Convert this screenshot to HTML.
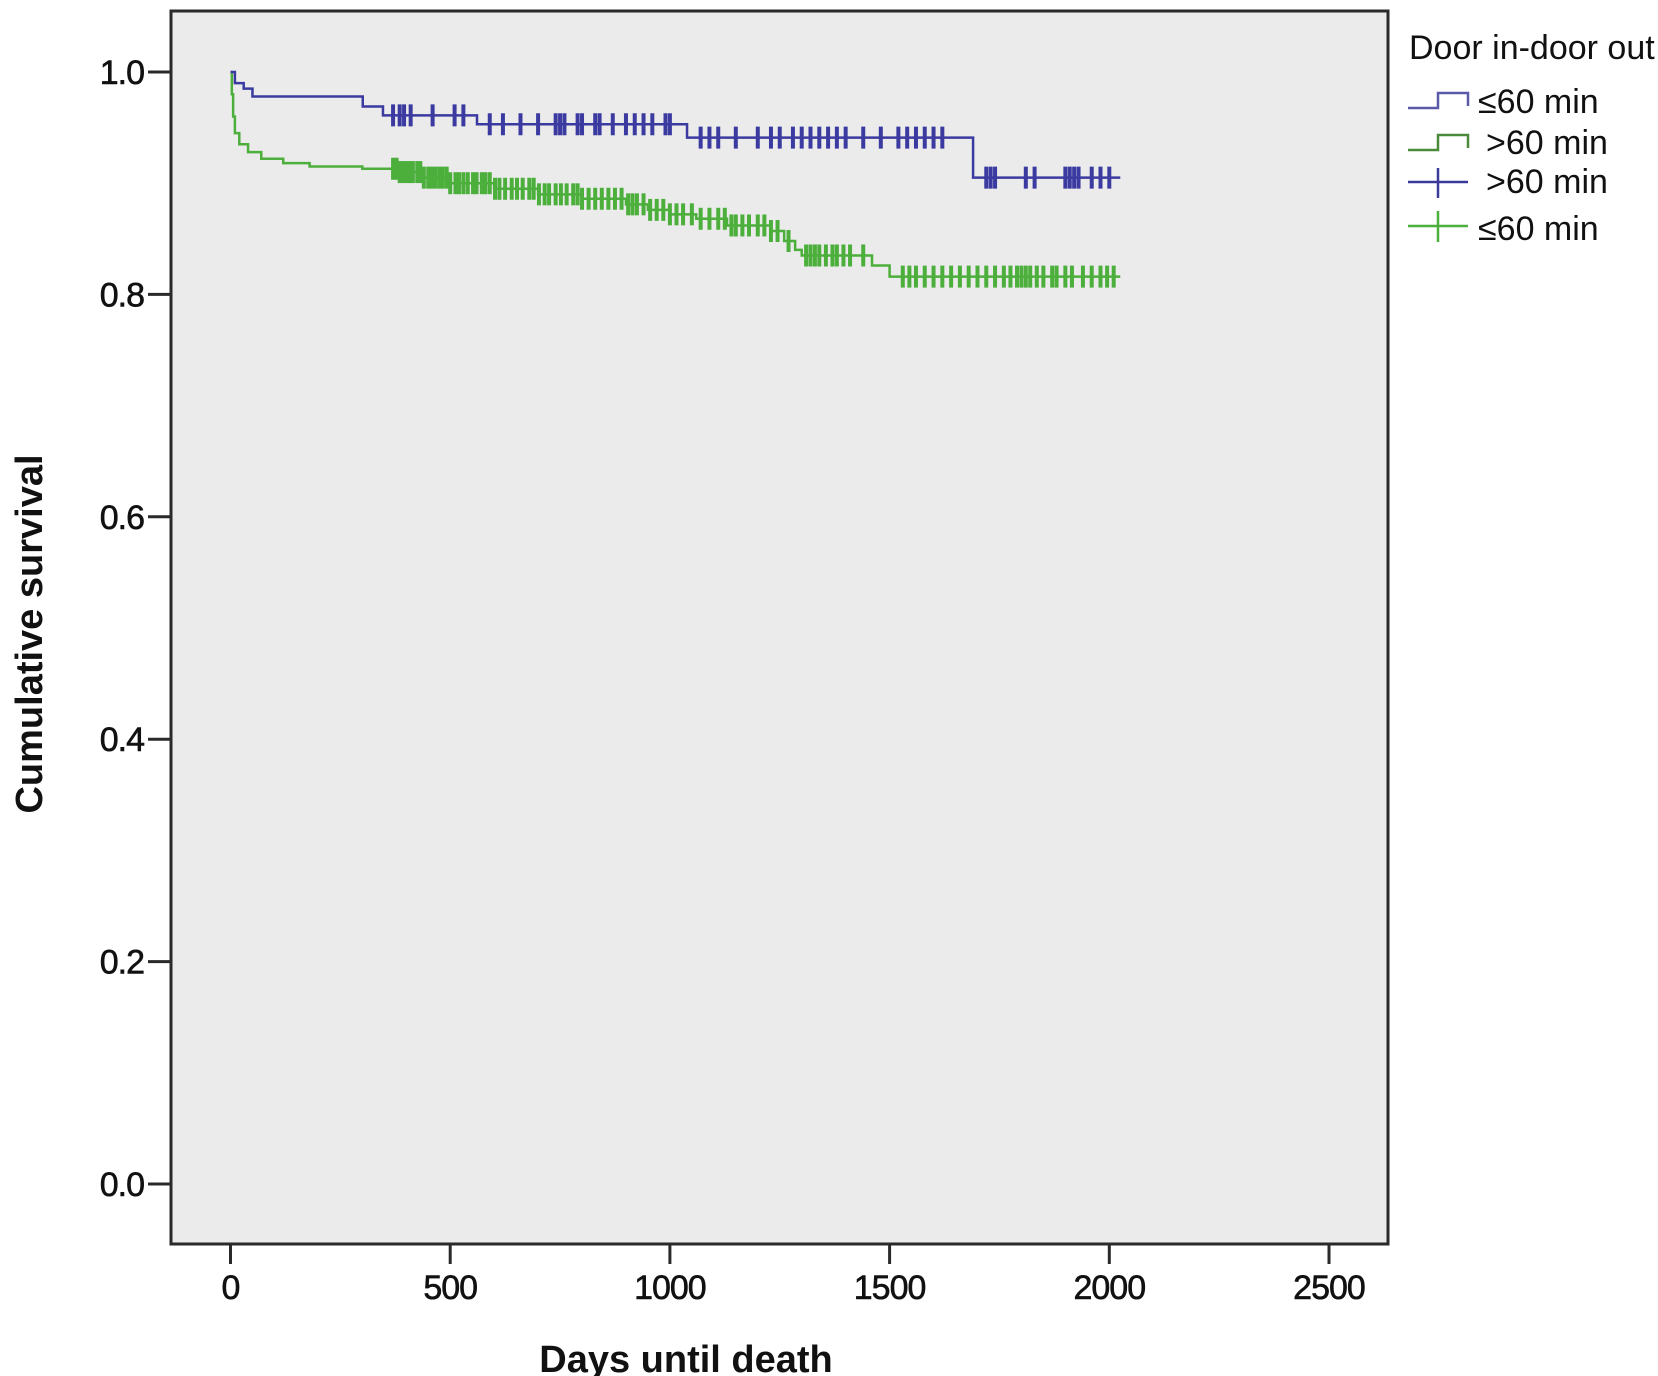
<!DOCTYPE html>
<html><head><meta charset="utf-8"><style>
html,body{margin:0;padding:0;background:#fff;}
svg{display:block;}
text{font-family:"Liberation Sans",sans-serif;}
</style></head>
<body>
<svg id="chart" width="1658" height="1376" viewBox="0 0 1658 1376" xmlns="http://www.w3.org/2000/svg">
<rect x="171" y="11" width="1217" height="1233" fill="#ebebeb" stroke="#2a2a2a" stroke-width="3"/>
<g id="axes"></g>
<g id="series"></g>
<text x="686" y="1372" font-size="38" font-weight="bold" text-anchor="middle" fill="#111">Days until death</text>
<text transform="translate(42,634) rotate(-90)" font-size="38" font-weight="bold" text-anchor="middle" fill="#111">Cumulative survival</text>
<g>
<text x="1409" y="59" font-size="34" fill="#111">Door in-door out</text>
<path d="M1408 108 H1438 V93 H1468 V106" fill="none" stroke="#5a5aa8" stroke-width="2.5"/>
<text x="1478" y="113" font-size="34" fill="#111">≤60 min</text>
<path d="M1408 150 H1438 V135 H1468 V148" fill="none" stroke="#4a8a3a" stroke-width="2.5"/>
<text x="1486" y="154" font-size="34" fill="#111">&gt;60 min</text>
<path d="M1408 182 H1468 M1438 168 V198" fill="none" stroke="#3a3a9a" stroke-width="2.5"/>
<text x="1486" y="193" font-size="34" fill="#111">&gt;60 min</text>
<path d="M1408 226 H1468 M1438 211 V242" fill="none" stroke="#4caf3c" stroke-width="2.5"/>
<text x="1478" y="240" font-size="34" fill="#111">≤60 min</text>
</g>
</svg>
<script>
const xTicks = [0, 500, 1000, 1500, 2000, 2500];
const yTicks = [0.0, 0.2, 0.4, 0.6, 0.8, 1.0];
const yTickLabels = ["0.0", "0.2", "0.4", "0.6", "0.8", "1.0"];
const blueStepTimes = [0, 10, 30, 50, 301, 347, 561, 1039, 1690];
const blueStepSurv = [1.0, 0.99, 0.985, 0.978, 0.969, 0.961, 0.953, 0.941, 0.905];
const blueEnd = 2025;
const blueCensor = [370,385,395,410,460,510,530,590,620,660,700,740,750,760,790,800,830,840,870,900,920,940,960,990,1000,1070,1090,1110,1150,1200,1230,1250,1280,1300,1320,1340,1360,1380,1400,1440,1480,1520,1540,1560,1580,1600,1620,1720,1730,1740,1810,1830,1900,1910,1920,1930,1960,1980,2000];
const greenStepTimes = [0, 3, 6, 10, 20, 40, 70, 120, 180, 300, 380, 440, 500, 600, 700, 800, 900, 950, 1000, 1060, 1130, 1230, 1260, 1285, 1300, 1460, 1500];
const greenStepSurv = [1.0, 0.98, 0.96, 0.945, 0.935, 0.928, 0.922, 0.918, 0.915, 0.913, 0.91, 0.905, 0.9, 0.895, 0.89, 0.886, 0.881, 0.876, 0.872, 0.868, 0.862, 0.857, 0.848, 0.84, 0.835, 0.826, 0.816];
const greenEnd = 2025;
const greenCensor = [370,378,385,392,400,408,415,425,432,440,450,458,466,475,483,492,500,512,520,530,540,552,560,572,580,590,602,612,625,640,652,665,680,690,702,715,725,740,752,765,780,790,800,815,830,845,860,875,890,905,915,925,940,955,970,985,1000,1015,1030,1050,1070,1090,1110,1125,1140,1150,1165,1180,1200,1215,1230,1245,1270,1310,1320,1330,1340,1355,1370,1380,1395,1410,1440,1530,1545,1560,1580,1600,1620,1640,1660,1680,1700,1720,1740,1760,1775,1790,1800,1810,1820,1835,1850,1870,1880,1900,1915,1940,1960,1980,1995,2010];

const X = t => 230.5 + t * 0.4394;
const Y = v => 1184 - v * 1112;
const NS = "http://www.w3.org/2000/svg";
const axes = document.getElementById('axes');
const series = document.getElementById('series');
function mk(tag, attrs, parent) {
  const e = document.createElementNS(NS, tag);
  for (const k in attrs) e.setAttribute(k, attrs[k]);
  parent.appendChild(e);
  return e;
}
xTicks.forEach(t => {
  const l = mk('line', {x1: X(t), x2: X(t), y1: 1244, y2: 1264, stroke: '#2a2a2a', 'stroke-width': 3}, axes);
  
  
  const tx = mk('text', {x: X(t), y: 1299, 'font-size': 34, 'letter-spacing': -1, 'text-anchor': 'middle', fill: '#111', stroke: '#111', 'stroke-width': 0.6}, axes);
  tx.textContent = String(t);
  
  
});
yTicks.forEach((v, i) => {
  const l = mk('line', {x1: 148, x2: 171, y1: Y(v), y2: Y(v), stroke: '#2a2a2a', 'stroke-width': 3}, axes);
  
  
  const tx = mk('text', {x: 144, y: Y(v) + 12, 'font-size': 34, 'letter-spacing': -1, 'text-anchor': 'end', fill: '#111', stroke: '#111', 'stroke-width': 0.6}, axes);
  tx.textContent = yTickLabels[i];
  
  
});
function stepPath(times, surv, end) {
  let d = 'M' + X(times[0]) + ' ' + Y(surv[0]);
  for (let i = 1; i < times.length; i++) d += ' H' + X(times[i]) + ' V' + Y(surv[i]);
  d += ' H' + X(end);
  return d;
}
function survAt(times, surv, t) {
  let s = surv[0];
  for (let i = 0; i < times.length; i++) if (times[i] <= t) s = surv[i];
  return s;
}
function drawSeries(name, times, surv, end, cens, color) {
  const g = mk('g', {}, series);
  
  
  const p = mk('path', {d: stepPath(times, surv, end), fill: 'none', stroke: color, 'stroke-width': 2.5}, g);
  
  
  cens.forEach(t => {
    const y = Y(survAt(times, surv, t));
    const c = mk('line', {x1: X(t), x2: X(t), y1: y - 11, y2: y + 11, stroke: color, 'stroke-width': 4}, g);
    
    
  });
}
drawSeries('green', greenStepTimes, greenStepSurv, greenEnd, greenCensor, '#4caf3c');
drawSeries('blue', blueStepTimes, blueStepSurv, blueEnd, blueCensor, '#3a3aa0');
</script>
</body></html>
